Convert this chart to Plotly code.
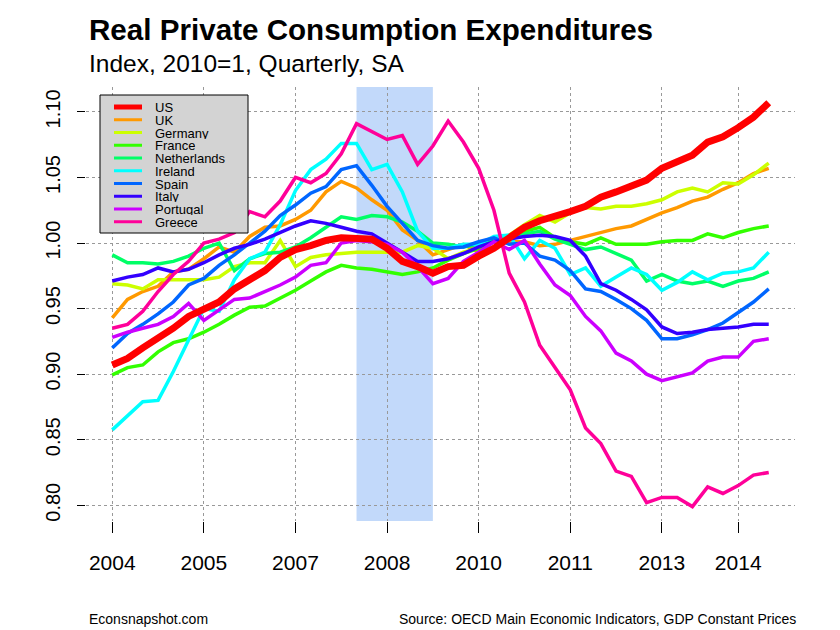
import plotly.graph_objects as go

# ---------------- data ----------------
quarters = [f"{y}Q{q}" for y in range(2004, 2015) for q in range(1, 5)]  # 2004Q1 .. 2014Q4

US = [0.907, 0.912, 0.920, 0.927, 0.935, 0.944, 0.950, 0.955, 0.965, 0.972,
      0.979, 0.989, 0.995, 0.998, 1.002, 1.004, 1.003, 1.003, 0.996, 0.986,
      0.982, 0.977, 0.982, 0.983, 0.990, 0.996, 1.004, 1.012, 1.017, 1.020,
      1.024, 1.028, 1.035, 1.039, 1.044, 1.048, 1.057, 1.062, 1.067, 1.077,
      1.081, 1.088, 1.096, 1.107]
UK = [0.943, 0.957, 0.963, 0.967, 0.978, 0.980, 0.988, 0.997, 0.993, 1.005,
      1.012, 1.013, 1.018, 1.025, 1.039, 1.047, 1.042, 1.033, 1.025, 1.010,
      1.002, 0.991, 0.995, 0.999, 0.993, 1.002, 1.001, 1.001, 0.998, 0.999,
      1.002, 1.005, 1.008, 1.011, 1.013, 1.018, 1.023, 1.027, 1.032, 1.035,
      1.041, 1.046, 1.053, 1.057]
Germany = [0.969, 0.968, 0.965, 0.972, 0.972, 0.972, 0.972, 0.974, 0.982, 0.985,
           0.985, 1.002, 0.982, 0.989, 0.991, 0.992, 0.993, 0.993, 0.993, 0.993,
           0.998, 0.996, 0.988, 0.993, 0.996, 1.001, 1.006, 1.014, 1.021, 1.016,
           1.023, 1.027, 1.026, 1.028, 1.028, 1.030, 1.033, 1.039, 1.042, 1.039,
           1.046, 1.045, 1.052, 1.061]
France = [0.8995, 0.905, 0.907, 0.917, 0.924, 0.927, 0.932, 0.938, 0.945, 0.951,
          0.952, 0.958, 0.964, 0.971, 0.978, 0.983, 0.981, 0.980, 0.978, 0.976,
          0.978, 0.981, 0.987, 0.992, 0.996, 1.001, 1.005, 1.009, 1.012, 1.004,
          1.001, 0.999, 1.004, 0.999, 0.999, 0.999, 1.001, 1.002, 1.002, 1.007,
          1.004, 1.008, 1.011, 1.013]
Netherlands = [0.991, 0.985, 0.985, 0.984, 0.986, 0.990, 0.996, 1.000, 0.979, 0.988,
               0.992, 0.993, 0.997, 1.004, 1.012, 1.020, 1.018, 1.021, 1.020, 1.016,
               1.009, 1.000, 0.999, 0.997, 0.999, 1.002, 1.004, 1.007, 1.009, 1.003,
               0.999, 0.995, 0.997, 0.992, 0.987, 0.971, 0.976, 0.971, 0.969, 0.971,
               0.967, 0.971, 0.973, 0.978]
Ireland = [0.8575, 0.868, 0.879, 0.880, 0.902, 0.926, 0.950, 0.948, 0.972, 0.988,
           0.993, 1.014, 1.040, 1.056, 1.064, 1.076, 1.076, 1.056, 1.060, 1.039,
           1.009, 0.996, 0.996, 0.999, 0.999, 1.005, 1.006, 0.988, 1.002, 0.996,
           0.976, 0.981, 0.967, 0.974, 0.981, 0.976, 0.964, 0.970, 0.978, 0.972,
           0.977, 0.978, 0.981, 0.993]
Spain = [0.920, 0.931, 0.938, 0.946, 0.955, 0.968, 0.973, 0.983, 0.991, 1.000,
         1.009, 1.021, 1.029, 1.038, 1.043, 1.056, 1.059, 1.044, 1.028, 1.015,
         1.002, 0.998, 0.996, 0.997, 1.001, 1.004, 0.999, 1.000, 0.990, 0.987,
         0.979, 0.965, 0.963, 0.957, 0.950, 0.941, 0.927, 0.927, 0.930, 0.934,
         0.939, 0.947, 0.955, 0.965]
Italy = [0.971, 0.974, 0.976, 0.981, 0.978, 0.980, 0.985, 0.991, 0.996, 0.999,
         1.003, 1.008, 1.013, 1.017, 1.015, 1.012, 1.009, 1.007, 1.000, 0.993,
         0.986, 0.986, 0.988, 0.992, 0.997, 1.001, 1.003, 1.005, 1.006, 1.005,
         1.002, 0.990, 0.969, 0.964, 0.957, 0.949, 0.936, 0.931, 0.932, 0.934,
         0.935, 0.936, 0.938, 0.938]
Portugal = [0.928, 0.932, 0.935, 0.938, 0.944, 0.954, 0.941, 0.949, 0.957, 0.958,
            0.963, 0.968, 0.974, 0.983, 0.985, 1.000, 1.002, 1.001, 0.999, 0.993,
            0.982, 0.969, 0.973, 0.986, 0.993, 1.001, 0.995, 1.002, 0.984, 0.968,
            0.960, 0.944, 0.933, 0.916, 0.910, 0.900, 0.895, 0.898, 0.901, 0.910,
            0.913, 0.913, 0.925, 0.927]
Greece = [0.935, 0.938, 0.948, 0.963, 0.976, 0.986, 1.000, 1.003, 1.008, 1.024,
          1.020, 1.032, 1.050, 1.046, 1.053, 1.068, 1.091, 1.085, 1.079, 1.082,
          1.060, 1.074, 1.093, 1.077, 1.057, 1.025, 0.977, 0.955, 0.922, 0.905,
          0.888, 0.859, 0.847, 0.826, 0.822, 0.802, 0.806, 0.806, 0.799, 0.814,
          0.809, 0.815, 0.823, 0.825]

series_names = ["US", "UK", "Germany", "France", "Netherlands",
                "Ireland", "Spain", "Italy", "Portugal", "Greece"]
series_values = [US, UK, Germany, France, Netherlands,
                 Ireland, Spain, Italy, Portugal, Greece]
series_colors = ["#FF0000", "#FF9900", "#CCFF00", "#33FF00", "#00FF66",
                 "#00FFFF", "#0066FF", "#3300FF", "#CC00FF", "#FF0099"]

tick_quarters = ["2004Q1", "2005Q3", "2007Q1", "2008Q3", "2010Q1", "2011Q3", "2013Q1", "2014Q2"]
tick_labels = ["2004", "2005", "2007", "2008", "2010", "2011", "2013", "2014"]
y_ticks = [0.80, 0.85, 0.90, 0.95, 1.00, 1.05, 1.10]
recession = ["2008Q1", "2009Q2"]

# ---------------- layout geometry ----------------
W, H = 840, 630
L, R, T, B = 86, 45, 87, 109
PW, PH = W - L - R, H - T - B
FONT = "Liberation Sans, Arial, Helvetica, sans-serif"


def fx(p):  # pixel x -> paper
    return (p - L) / PW


def fy(p):  # pixel y -> paper
    return (H - B - p) / PH


fig = go.Figure()

# others first, US on top
order = list(range(1, len(series_names))) + [0]
for i in order:
    fig.add_trace(go.Scatter(
        x=quarters, y=series_values[i], mode="lines", name=series_names[i],
        line=dict(color=series_colors[i], width=7 if i == 0 else 3.5),
        showlegend=False,
    ))

shapes = []
# recession shading
shapes.append(dict(type="rect", xref="x", yref="paper",
                   x0=quarters.index(recession[0]), x1=quarters.index(recession[1]),
                   y0=0, y1=1, fillcolor="#C2D9FA", line=dict(width=0), layer="below"))

# custom legend (R style)
lg_x0, lg_x1, lg_y0, lg_y1 = 100, 248, 95, 233
shapes.append(dict(type="rect", xref="paper", yref="paper",
                   x0=fx(lg_x0), x1=fx(lg_x1), y0=fy(lg_y1), y1=fy(lg_y0),
                   fillcolor="#D3D3D3", line=dict(color="black", width=1), layer="above"))
annotations = []
for k, (nm, col) in enumerate(zip(series_names, series_colors)):
    yy = 107 + 12.75 * k
    shapes.append(dict(type="line", xref="paper", yref="paper",
                       x0=fx(114), x1=fx(142), y0=fy(yy), y1=fy(yy),
                       line=dict(color=col, width=5 if k == 0 else 3), layer="above"))
    annotations.append(dict(xref="paper", yref="paper", x=fx(154), y=fy(yy),
                            xanchor="left", yanchor="middle", text=nm, showarrow=False,
                            height=12, borderpad=0,
                            font=dict(family=FONT, size=13, color="black")))

# titles
annotations.append(dict(xref="paper", yref="paper", x=fx(87), y=fy(29),
                        xanchor="left", yanchor="middle", showarrow=False,
                        text="<b>Real Private Consumption Expenditures</b>",
                        font=dict(family=FONT, size=29.6, color="black")))
annotations.append(dict(xref="paper", yref="paper", x=fx(87), y=fy(64),
                        xanchor="left", yanchor="middle", showarrow=False,
                        text="Index, 2010=1, Quarterly, SA",
                        font=dict(family=FONT, size=24.5, color="black")))
# footer
annotations.append(dict(xref="paper", yref="paper", x=fx(87), y=fy(619),
                        xanchor="left", yanchor="middle", showarrow=False,
                        text="Econsnapshot.com",
                        font=dict(family=FONT, size=14, color="black")))
annotations.append(dict(xref="paper", yref="paper", x=fx(798), y=fy(619),
                        xanchor="right", yanchor="middle", showarrow=False,
                        text="Source: OECD Main Economic Indicators, GDP Constant Prices",
                        font=dict(family=FONT, size=14, color="black")))

fig.update_layout(
    width=W, height=H,
    margin=dict(l=L, r=R, t=T, b=B, pad=0),
    paper_bgcolor="white", plot_bgcolor="white",
    shapes=shapes, annotations=annotations,
    showlegend=False,
    font=dict(family=FONT, color="black"),
)
fig.update_xaxes(
    type="category", range=[-1.72, 44.72],
    tickmode="array", tickvals=tick_quarters, ticktext=tick_labels,
    ticks="outside", ticklen=11, tickwidth=1, tickcolor="black",
    showline=False, zeroline=False,
    showgrid=True, gridcolor="#999999", griddash="dot", gridwidth=1,
    tickfont=dict(family=FONT, size=21, color="black"),
    ticklabelstandoff=12,
)
fig.update_yaxes(
    range=[0.788, 1.119],
    tickmode="array", tickvals=y_ticks, ticktext=[f"{v:.2f}" for v in y_ticks],
    tickangle=-90,
    ticks="outside", ticklen=8, tickwidth=1, tickcolor="black",
    showline=False, zeroline=False,
    showgrid=True, gridcolor="#999999", griddash="dot", gridwidth=1,
    tickfont=dict(family=FONT, size=20, color="black"),
    ticklabelstandoff=9,
)

fig.write_html("out.html", config={"displayModeBar": False},
               post_script="document.body.style.margin='0px';document.body.style.padding='0px';")
